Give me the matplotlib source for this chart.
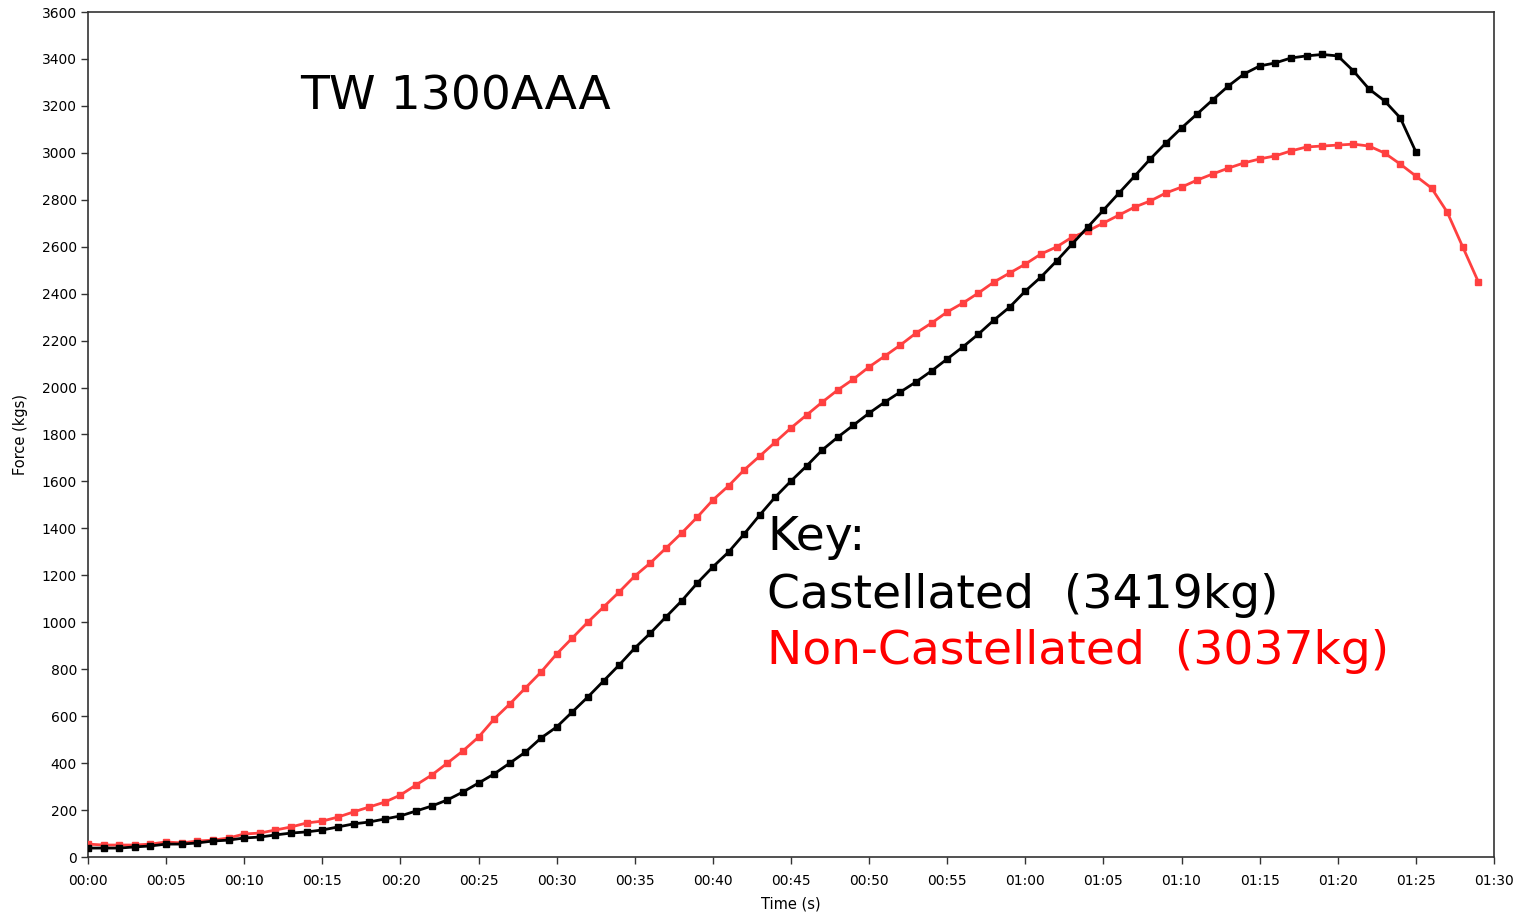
"""Tensile pull test: Castellated vs Non-Castellated force over time."""
import numpy as np
import matplotlib
matplotlib.use("Agg")
import matplotlib.pyplot as plt
from matplotlib.ticker import FuncFormatter, MultipleLocator

# force (kgs) sampled once per second
CASTELLATED = [38, 38, 38, 43, 47, 55, 55, 60, 68, 72, 81, 85, 94, 102, 107, 115,
               128, 141, 149, 162, 175, 196, 217, 243, 277, 315, 354, 400, 447, 507,
               554, 618, 682, 750, 818, 890, 954, 1023, 1091, 1167, 1236, 1299, 1376,
               1457, 1534, 1602, 1666, 1734, 1789, 1840, 1891, 1938, 1981, 2024, 2071,
               2122, 2173, 2228, 2288, 2343, 2411, 2471, 2539, 2612, 2684, 2756, 2829,
               2901, 2974, 3042, 3106, 3166, 3226, 3285, 3336, 3370, 3383, 3404, 3413,
               3419, 3413, 3349, 3272, 3221, 3149, 3004]
NON_CASTELLATED = [55, 51, 51, 51, 55, 64, 60, 68, 72, 81, 98, 102, 115, 128, 145,
                   153, 170, 192, 213, 234, 264, 307, 349, 400, 452, 511, 588, 652,
                   720, 788, 865, 933, 1001, 1065, 1129, 1197, 1253, 1316, 1380, 1448,
                   1521, 1581, 1649, 1708, 1768, 1828, 1883, 1938, 1990, 2036, 2088,
                   2134, 2181, 2232, 2275, 2322, 2360, 2403, 2450, 2488, 2526, 2569,
                   2599, 2641, 2667, 2701, 2735, 2769, 2795, 2829, 2854, 2884, 2910,
                   2935, 2957, 2974, 2987, 3008, 3025, 3029, 3033, 3037, 3029, 2999,
                   2952, 2901, 2850, 2748, 2599, 2450]
TITLE = "TW 1300AAA"
KEY_LINES = ["Castellated  (3419kg)", "Non-Castellated  (3037kg)"]

t_cast = np.arange(len(CASTELLATED))
t_non = np.arange(len(NON_CASTELLATED))

fig = plt.figure(figsize=(15.22, 9.13), dpi=100)
ax = fig.add_axes([88 / 1522, 1 - 857 / 913, (1494 - 88) / 1522, (857 - 12) / 913])

ax.plot(t_non, NON_CASTELLATED, color="#ff4040", lw=2, marker="s", ms=5, zorder=3)
ax.plot(t_cast, CASTELLATED, color="black", lw=2, marker="s", ms=5, zorder=4)

ax.set_xlim(0, 90)
ax.set_ylim(0, 3600)
ax.xaxis.set_major_locator(MultipleLocator(5))
ax.yaxis.set_major_locator(MultipleLocator(200))
ax.xaxis.set_major_formatter(FuncFormatter(lambda v, _: f"{int(v) // 60:02d}:{int(v) % 60:02d}"))
ax.tick_params(labelsize=10, length=5, width=1, color="#333333", direction="out", pad=3)
ax.tick_params(axis="x", pad=7)
for s in ax.spines.values():
    s.set_color("#333333")
    s.set_linewidth(1.2)

ax.set_xlabel("Time (s)", fontsize=10.5, labelpad=6)
ax.set_ylabel("Force (kgs)", fontsize=10.5, labelpad=10)

fig.text(300 / 1522, 1 - 97 / 913, TITLE, fontsize=34, va="center", ha="left")
fig.text(767 / 1522, 1 - 537 / 913, "Key:", fontsize=34, va="center", ha="left")
fig.text(767 / 1522, 1 - 595 / 913, KEY_LINES[0], fontsize=34, va="center", ha="left")
fig.text(767 / 1522, 1 - 652 / 913, KEY_LINES[1], fontsize=34, va="center", ha="left",
         color="#ff0000")

fig.savefig("out.png", dpi=100)
